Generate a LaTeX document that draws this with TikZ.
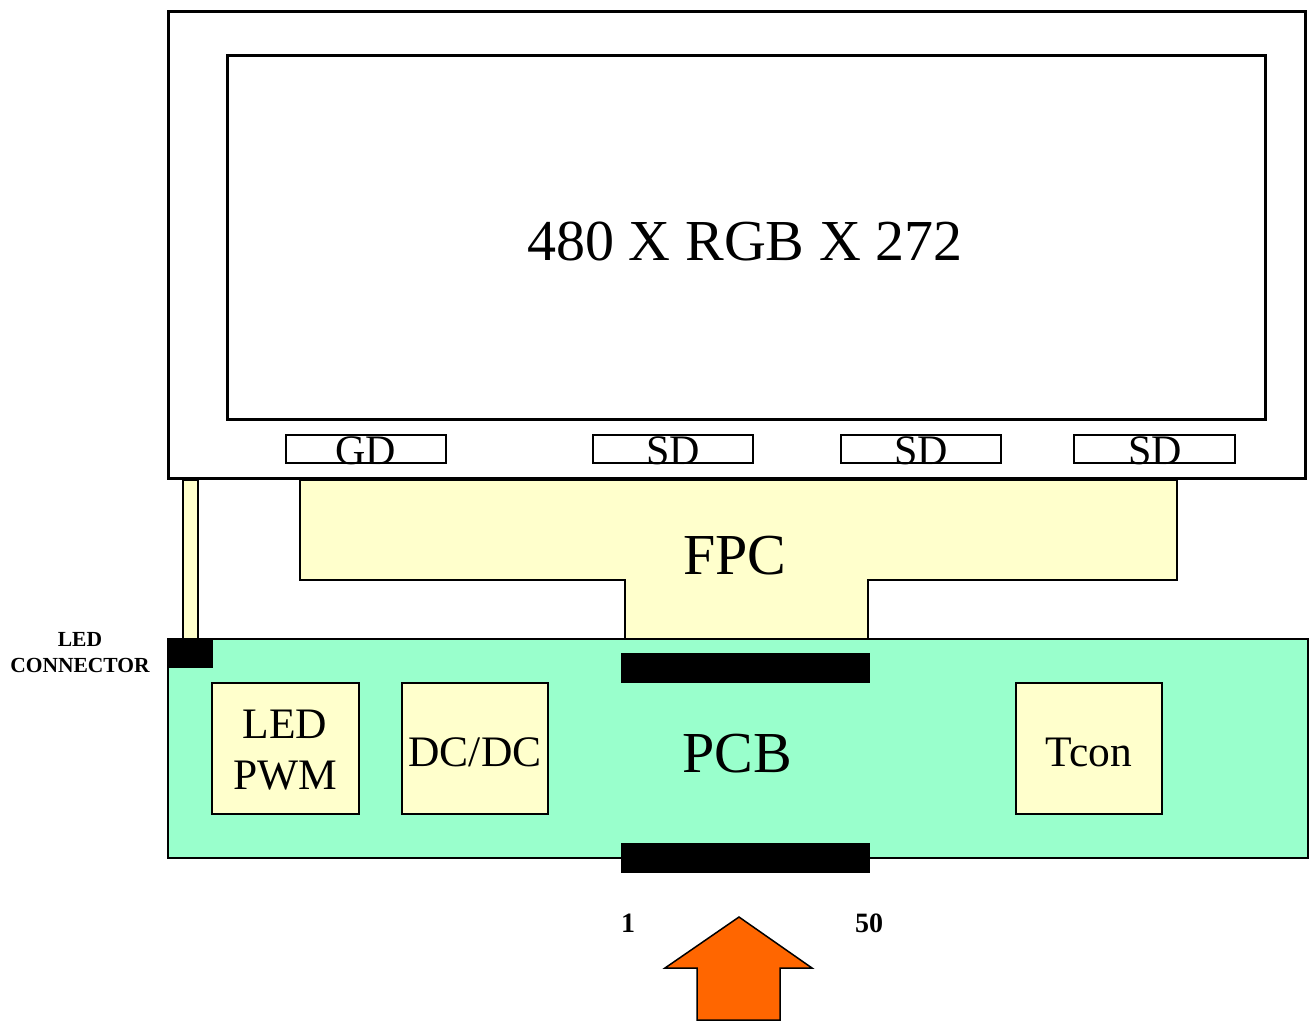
\documentclass[tikz,border=0pt]{standalone}
\usepackage{fontspec}
\setmainfont{Liberation Serif}
\definecolor{fpcyellow}{HTML}{FFFFCC}
\definecolor{pcbgreen}{HTML}{99FFCC}
\definecolor{arroworange}{HTML}{FF6600}

\begin{document}
\begin{tikzpicture}[x=1pt,y=-1pt,
  bigtext/.style={font=\fontsize{58}{66}\selectfont, inner sep=0pt, anchor=base},
  icbox/.style={draw, line width=1.5pt},
  chiptext/.style={font=\fontsize{43.5}{51}\selectfont, align=center, inner sep=0pt},
  smalltext/.style={font=\fontsize{42}{46}\selectfont, inner sep=0pt, anchor=base},
  pinlabel/.style={font=\bfseries\fontsize{28}{30}\selectfont, inner sep=0pt, anchor=base}]

  \useasboundingbox (0,0) rectangle (1309,1021);

  % panel
  \draw[line width=3pt] (168,11) rectangle (1305,478);
  \draw[line width=3pt] (227,55) rectangle (1265,419);
  \node[bigtext] (res) at (745,260) {480 X RGB X 272};

  % driver ICs
  \draw[icbox] (286,435) rectangle (446,463);
  \node[smalltext] (gd) at (366,464) {GD};
  \draw[icbox] (593,435) rectangle (753,463);
  \node[smalltext] (sd1) at (673,464) {SD};
  \draw[icbox] (841,435) rectangle (1001,463);
  \node[smalltext] (sd2) at (921,464) {SD};
  \draw[icbox] (1074,435) rectangle (1235,463);
  \node[smalltext] (sd3) at (1155,464) {SD};

  % flex cables
  \draw[fill=fpcyellow, line width=1.5pt] (183,480) rectangle (198,640);
  \draw[fill=fpcyellow, line width=1.5pt] (300,480) -- (1177,480) -- (1177,580)
    -- (868,580) -- (868,655) -- (625,655) -- (625,580) -- (300,580) -- cycle;
  \node[bigtext] (fpc) at (735,574) {FPC};

  % board
  \draw[fill=pcbgreen, line width=1.5pt] (168,639) rectangle (1308,858);
  \fill (621,653) rectangle (870,683);
  \fill (621,843) rectangle (870,873);
  \fill (168,639) rectangle (213,668);
  \node[bigtext] (pcb) at (737,772) {PCB};

  \draw[icbox, fill=fpcyellow] (212,683) rectangle (359,814);
  \node[chiptext] (pwm) at (285,750) {LED\\PWM};
  \draw[icbox, fill=fpcyellow] (402,683) rectangle (548,814);
  \node[chiptext, anchor=base] (dcdc) at (475,766) {DC/DC};
  \draw[icbox, fill=fpcyellow] (1016,683) rectangle (1162,814);
  \node[chiptext, anchor=base] (tcon) at (1089,766) {Tcon};

  \node[font=\bfseries\fontsize{21.5}{26}\selectfont, align=center, inner sep=0pt] (ledcon) at (80,653) {LED\\CONNECTOR};

  % input
  \node[pinlabel] (pin1) at (628,932) {1};
  \node[pinlabel] (pin50) at (869,932) {50};
  \draw[fill=arroworange, line width=1.5pt] (739,917) -- (812,968) -- (780,968) -- (780,1020)
    -- (697,1020) -- (697,968) -- (665,968) -- cycle;
\end{tikzpicture}
\end{document}
